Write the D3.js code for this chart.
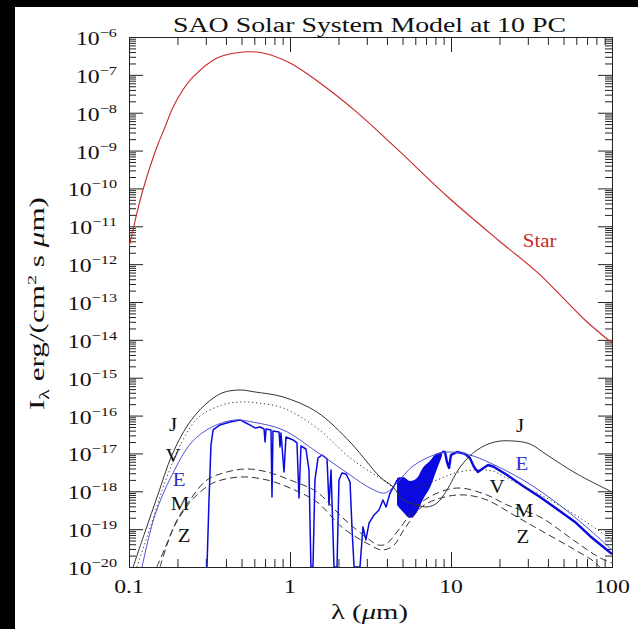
<!DOCTYPE html>
<html>
<head>
<meta charset="utf-8">
<script src="https://cdn.jsdelivr.net/npm/d3@7"></script>
<style>
  html, body { margin: 0; padding: 0; background: #000; }
  svg { display: block; }
  text { font-family: 'Liberation Serif', 'DejaVu Serif', serif; }
</style>
</head>
<body>
<script>
'use strict'

// wavelength (micron), intensity erg/(cm^2 s micron)
const starSpec = [
    [0.1, 2.84e-12], [0.106, 7.98e-12], [0.112, 2.25e-11], [0.122, 9.1e-11],
    [0.149, 1.24e-9], [0.1675, 4.2e-9], [0.188, 1.42e-8], [0.216, 3.98e-8], [0.25, 8.8e-8],
    [0.352, 2.79e-7], [0.511, 4.02e-7], [0.679, 3.78e-7], [1.0, 2.06e-7], [1.535, 6.1e-8],
    [2.64, 9.8e-9], [4.69, 1.04e-9], [9.57, 5.94e-11], [19.6, 4.35e-12], [34.7, 5.85e-13],
    [67.9, 3.35e-14], [100, 8.3e-15]
]

const jupiter = [
    [0.106, 1e-20], [0.1257, 8.4e-20], [0.151, 8.0e-19], [0.185, 9.1e-18], [0.232, 5.65e-17],
    [0.296, 1.91e-16], [0.378, 3.95e-16], [0.489, 4.74e-16], [0.606, 4.2e-16], [0.906, 3.1e-16],
    [1.47, 1.24e-16], [2.36, 2.01e-17], [3.01, 5.94e-18], [3.62, 2.39e-18], [4.37, 1.3e-18],
    [5.04, 5.9e-19], [6.15, 4.35e-19], [7.1, 3.85e-19], [8.19, 4.9e-19], [9.44, 1.08e-18],
    [11.4, 4.39e-18], [14.5, 1.23e-17], [18.7, 2.01e-17], [24.3, 2.13e-17], [30.9, 1.78e-17],
    [39.5, 9.1e-18], [60.6, 2.87e-18], [100, 9.6e-19]
]

const venus = [
    [0.112, 1e-20], [0.139, 1.55e-19], [0.1675, 1.76e-18], [0.213, 2.01e-17], [0.268, 8.65e-17],
    [0.378, 1.91e-16], [0.504, 2.29e-16], [0.632, 2.15e-16], [0.906, 1.59e-16], [1.47, 4.7e-17],
    [2.36, 7.6e-18], [3.62, 2.25e-18], [4.82, 1.08e-18], [6.24, 1.3e-18], [8.19, 1.99e-18],
    [10.6, 3.05e-18], [14.1, 3.66e-18], [18.0, 3.44e-18], [21.6, 2.39e-18], [28.8, 1.3e-18],
    [41.2, 5.9e-19], [63.3, 1.97e-19], [100, 5.2e-20]
]

const earthEnvelope = [
    [0.1205, 1e-20], [0.145, 2.37e-19], [0.185, 2.7e-18], [0.246, 2.01e-17], [0.328, 5.0e-17],
    [0.455, 7.66e-17], [0.581, 6.78e-17], [0.906, 4.17e-17], [1.47, 1.09e-17], [2.36, 2.7e-18],
    [3.14, 1.22e-18], [3.89, 9.0e-19], [4.62, 1.66e-18], [5.81, 4.67e-18], [8.19, 9.7e-18],
    [9.86, 1.09e-17], [13.1, 9.1e-18], [17.5, 5.6e-18], [28.0, 1.99e-18], [45.5, 4.9e-19],
    [72.9, 9.5e-20], [100, 2.82e-20]
]

// reflected part of the Earth spectrum, with the absorption bands
const earthReflected = [
    [0.305, 1e-20], [0.314, 5.9e-19], [0.323, 1.67e-17], [0.333, 4.17e-17], [0.367, 5.65e-17],
    [0.424, 6.78e-17], [0.489, 7.66e-17], [0.548, 6.0e-17], [0.606, 4.71e-17], [0.652, 5.0e-17],
    [0.69, 4.43e-17], [0.7, 2.01e-17], [0.71, 4.43e-17], [0.762, 4.17e-17], [0.773, 7.1e-19],
    [0.784, 3.92e-17], [0.855, 3.69e-17], [0.867, 1.48e-17], [0.879, 3.47e-17], [0.918, 3.24e-18],
    [0.944, 2.72e-17], [1.045, 2.27e-17], [1.105, 1.89e-17], [1.137, 6.65e-19], [1.17, 1.57e-17],
    [1.256, 1.31e-17], [1.312, 3.66e-18], [1.349, 1e-20], [1.389, 1e-20], [1.429, 1.99e-18],
    [1.493, 7.6e-18], [1.581, 9.1e-18], [1.698, 7.15e-18], [1.747, 4.35e-19], [1.799, 3.66e-18],
    [1.876, 1e-20], [1.959, 1e-20], [2.014, 1.99e-18], [2.103, 3.05e-18], [2.228, 2.87e-18],
    [2.36, 1.76e-18], [2.43, 9.5e-20], [2.5, 1e-20], [2.72, 1e-20], [2.84, 1.14e-19],
    [2.96, 5.2e-20], [3.1, 1.46e-19], [3.33, 2.37e-19], [3.57, 3.21e-19], [3.78, 5.9e-19],
    [3.95, 3.85e-19], [4.18, 9.0e-19], [4.43, 1.38e-18], [4.62, 1.99e-18]
]

// 5-8 micron water band: wavelength, lower edge, upper edge
const earthWaterBand = [
    [4.62, 4.35e-19, 2.25e-18], [5.04, 2.84e-19, 2.39e-18], [5.56, 1.97e-19, 1.87e-18],
    [6.15, 2.84e-19, 2.25e-18], [6.67, 5.9e-19, 4.13e-18], [7.38, 1.22e-18, 6.3e-18],
    [8.06, 3.24e-18, 9.7e-18], [8.79, 8.6e-18, 1.09e-17]
]

const earthThermal = [
    [8.79, 1.09e-17], [9.18, 1.09e-17], [9.44, 5.94e-18], [9.72, 4.13e-18], [10.0, 9.1e-18],
    [10.9, 1.09e-17], [12.2, 9.7e-18], [13.1, 7.6e-18], [13.9, 4.39e-18], [14.7, 3.24e-18],
    [15.6, 3.89e-18], [17.0, 4.95e-18], [18.5, 4.39e-18], [22.3, 2.7e-18], [28.0, 1.38e-18],
    [35.7, 7.1e-19], [45.5, 3.41e-19], [58.9, 1.55e-19], [72.9, 6.6e-20], [100, 2.21e-20]
]

const mars = [
    [0.156, 1e-20], [0.172, 3.82e-20], [0.199, 1.75e-19], [0.239, 5.9e-19], [0.305, 1.99e-18],
    [0.406, 3.24e-18], [0.541, 3.89e-18], [0.72, 3.24e-18], [1.0, 1.99e-18], [1.47, 9.6e-19],
    [2.13, 1.97e-19], [3.01, 5.85e-20], [3.52, 3.82e-20], [3.95, 4.06e-20], [4.82, 1.07e-19],
    [6.24, 4.35e-19], [8.55, 9.6e-19], [11.4, 1.22e-18], [16.7, 8.0e-19], [22.3, 4.35e-19],
    [35.7, 2.1e-19], [57.3, 5.2e-20], [84.1, 1.75e-20], [100, 1.28e-20]
]

const zodi = [
    [0.149, 1e-20], [0.1675, 3.18e-20], [0.193, 1.29e-19], [0.232, 4.35e-19], [0.264, 8.0e-19],
    [0.333, 1.66e-18], [0.489, 2.39e-18], [0.72, 1.99e-18], [1.0, 1.22e-18], [1.47, 5.2e-19],
    [2.13, 1.07e-19], [3.14, 3.82e-20], [3.72, 2.82e-20], [4.37, 3.6e-20], [5.18, 1.07e-19],
    [6.7, 4.09e-19], [9.18, 7.1e-19], [12.2, 8.0e-19], [16.7, 5.9e-19], [25.7, 2.1e-19],
    [35.7, 9.5e-20], [54.8, 3.38e-20], [76.2, 1.46e-20], [84.1, 1e-20]
]

const curveLabels = [
    { text: 'J', lam: 0.1875, val: 3.92e-17, color: '#111' },
    { text: 'V', lam: 0.1875, val: 6.0e-18, color: '#111' },
    { text: 'E', lam: 0.2047, val: 1.35e-18, color: '#3030d0' },
    { text: 'M', lam: 0.2075, val: 3.21e-19, color: '#111' },
    { text: 'Z', lam: 0.2198, val: 4.58e-20, color: '#111' },
    { text: 'J', lam: 26.9, val: 3.69e-17, color: '#111' },
    { text: 'E', lam: 27.6, val: 3.66e-18, color: '#3030d0' },
    { text: 'V', lam: 19.3, val: 9.0e-19, color: '#111' },
    { text: 'M', lam: 28.4, val: 2.1e-19, color: '#111' },
    { text: 'Z', lam: 28.0, val: 4.3e-20, color: '#111' },
    { text: 'Star', lam: 35.5, val: 2.84e-12, color: '#c82828' }
]

const xMajor = [0.1, 1, 10, 100]
const xTickLabels = ['0.1', '1', '10', '100']
const yExponents = d3.range(-20, -5)

const width = 638
const height = 629
const plot = { left: 129, top: 37, right: 612, bottom: 567 }

const x = d3.scaleLog().domain([0.1, 100]).range([plot.left, plot.right])
const y = d3.scaleLog().domain([1e-20, 1e-6]).range([plot.bottom, plot.top])

const svg = d3.select('body').append('svg').attr('width', width).attr('height', height)

svg.append('rect').attr('x', 15).attr('y', 7).attr('width', width - 15).attr('height', height - 7)
    .attr('fill', '#fff')

svg.append('clipPath').attr('id', 'plotclip').append('rect')
    .attr('x', plot.left).attr('y', plot.top)
    .attr('width', plot.right - plot.left).attr('height', plot.bottom - plot.top)

// minor tick positions
const xMinor = []
for (const d of [0.1, 1, 10]) for (let k = 2; k <= 9; k++) xMinor.push(d * k)
const yMinor = []
for (const e of d3.range(-20, -6)) for (let k = 2; k <= 9; k++) yMinor.push(k * Math.pow(10, e))
const yMajor = yExponents.map(e => Math.pow(10, e))

function axisGroup(axis, tx, ty) {
    svg.append('g')
        .attr('transform', `translate(${tx},${ty})`)
        .attr('color', '#222')
        .call(axis.tickFormat(''))
        .call(g => g.select('.domain').remove())
}

axisGroup(d3.axisBottom(x).tickValues(xMajor).tickSize(-15), 0, plot.bottom)
axisGroup(d3.axisBottom(x).tickValues(xMinor).tickSize(-8), 0, plot.bottom)
axisGroup(d3.axisTop(x).tickValues(xMajor).tickSize(-15), 0, plot.top)
axisGroup(d3.axisTop(x).tickValues(xMinor).tickSize(-8), 0, plot.top)
axisGroup(d3.axisLeft(y).tickValues(yMajor).tickSize(-14), plot.left, 0)
axisGroup(d3.axisLeft(y).tickValues(yMinor).tickSize(-7), plot.left, 0)
axisGroup(d3.axisRight(y).tickValues(yMajor).tickSize(-14), plot.right, 0)
axisGroup(d3.axisRight(y).tickValues(yMinor).tickSize(-7), plot.right, 0)

svg.append('rect')
    .attr('x', plot.left + 0.5).attr('y', plot.top + 0.5)
    .attr('width', plot.right - plot.left).attr('height', plot.bottom - plot.top)
    .attr('fill', 'none').attr('stroke', '#222').attr('stroke-width', 1)

// curves
const curves = svg.append('g').attr('clip-path', 'url(#plotclip)')

const smooth = d3.line().x(d => x(d[0])).y(d => y(d[1])).curve(d3.curveCatmullRom.alpha(0.5))
const straight = d3.line().x(d => x(d[0])).y(d => y(d[1]))

function drawLine(data, gen, color, w, dash) {
    curves.append('path')
        .datum(data)
        .attr('d', gen)
        .attr('fill', 'none')
        .attr('stroke', color)
        .attr('stroke-width', w)
        .attr('stroke-dasharray', dash || null)
        .attr('stroke-linejoin', 'round')
}

drawLine(starSpec, smooth, '#c82828', 1.1)

curves.append('path')
    .datum(earthWaterBand)
    .attr('d', d3.area().x(d => x(d[0])).y0(d => y(d[1])).y1(d => y(d[2])).curve(d3.curveCatmullRom.alpha(0.5)))
    .attr('fill', '#0a0ae0')

drawLine(earthReflected, straight, '#0a0ae0', 1.5)
drawLine(earthThermal, straight, '#0a0ae0', 2.4)
drawLine(earthEnvelope, smooth, '#5050d8', 1)
drawLine(jupiter, smooth, '#333', 1)
drawLine(venus, smooth, '#333', 1, '1.2,2.8')
drawLine(mars, smooth, '#333', 1, '7,4')
drawLine(zodi, smooth, '#333', 1, '7,4')

// curve labels
svg.append('g').selectAll('text')
    .data(curveLabels)
    .join('text')
    .attr('transform', d => `translate(${x(d.lam)},${y(d.val)}) scale(1.1,1)`)
    .attr('text-anchor', 'middle')
    .attr('font-size', 19)
    .attr('fill', d => d.color)
    .text(d => d.text)

// y tick labels 10^n
const yLabels = svg.append('g')
    .selectAll('text')
    .data(yExponents)
    .join('text')
    .attr('transform', e => `translate(117,${y(Math.pow(10, e)) + 8}) scale(1.25,1)`)
    .attr('text-anchor', 'end')
    .attr('font-size', 19)
    .attr('fill', '#111')
yLabels.append('tspan').text('10')
yLabels.append('tspan').attr('dy', -8).attr('font-size', 13).text(e => '\u2212' + Math.abs(e))

// x tick labels
svg.append('g')
    .selectAll('text')
    .data(xMajor)
    .join('text')
    .attr('transform', d => `translate(${x(d)},593) scale(1.25,1)`)
    .attr('text-anchor', 'middle')
    .attr('font-size', 19)
    .attr('fill', '#111')
    .text((d, i) => xTickLabels[i])

// title
svg.append('text')
    .attr('x', 173).attr('y', 32)
    .attr('font-size', 20)
    .attr('fill', '#111')
    .attr('textLength', 393)
    .attr('lengthAdjust', 'spacingAndGlyphs')
    .text('SAO Solar System Model at 10 PC')

// x axis title
const xt = svg.append('text')
    .attr('x', 331).attr('y', 619)
    .attr('font-size', 20)
    .attr('fill', '#111')
    .attr('textLength', 77)
    .attr('lengthAdjust', 'spacingAndGlyphs')
xt.append('tspan').text('\u03bb (')
xt.append('tspan').attr('font-style', 'italic').text('\u03bc')
xt.append('tspan').text('m)')

// y axis title
const yt = svg.append('text')
    .attr('transform', 'translate(44,410) rotate(-90)')
    .attr('font-size', 20)
    .attr('fill', '#111')
    .attr('textLength', 213)
    .attr('lengthAdjust', 'spacingAndGlyphs')
yt.append('tspan').text('I')
yt.append('tspan').attr('dy', 5).attr('font-size', 14).text('\u03bb')
yt.append('tspan').attr('dy', -5).text(' erg/(cm')
yt.append('tspan').attr('dy', -8).attr('font-size', 13).text('2')
yt.append('tspan').attr('dy', 8).text(' s ')
yt.append('tspan').attr('font-style', 'italic').text('\u03bc')
yt.append('tspan').text('m)')
</script>
</body>
</html>
